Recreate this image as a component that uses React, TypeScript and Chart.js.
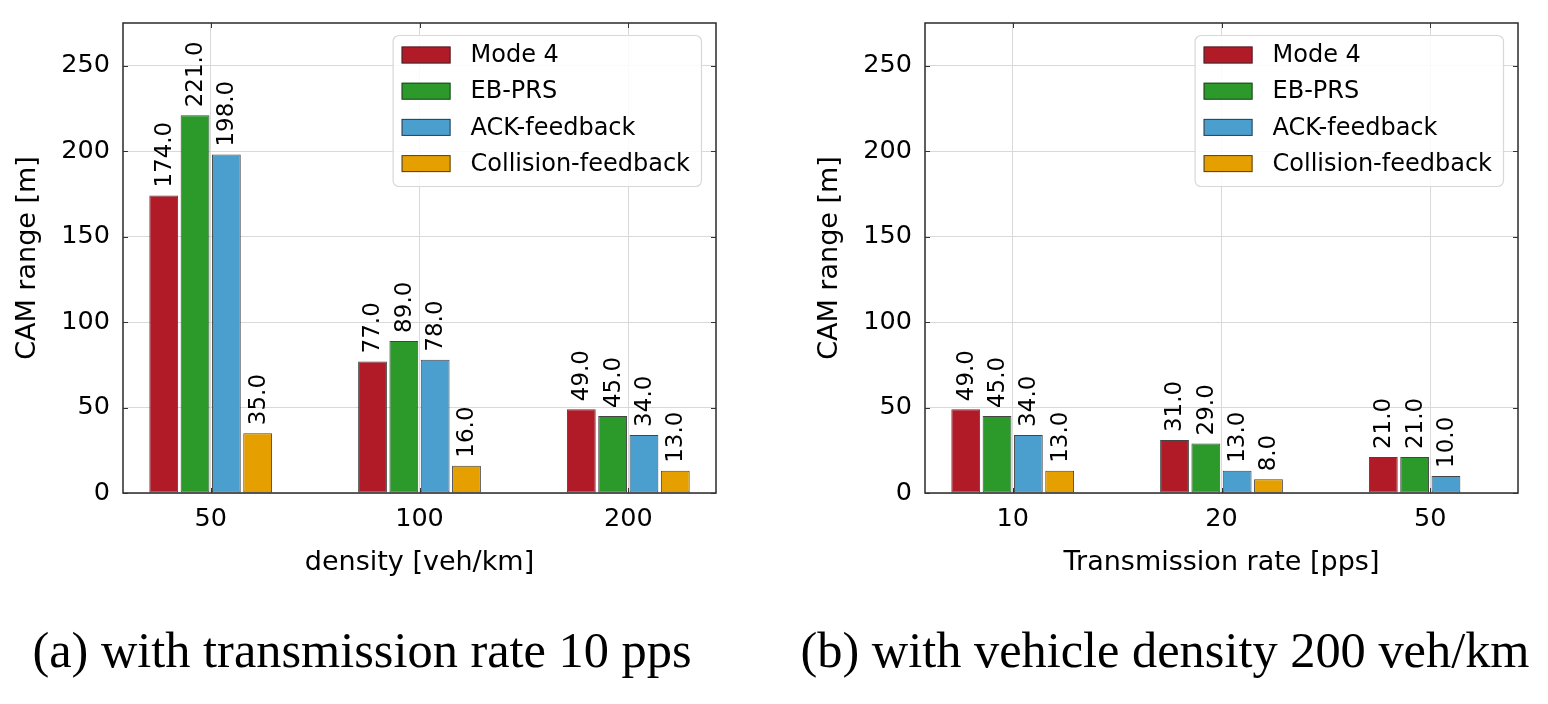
import React, { useEffect, useRef } from 'react';
import { Chart, registerables } from 'chart.js';

Chart.register(...registerables);

const SERIES_NAMES = ['Mode 4', 'EB-PRS', 'ACK-feedback', 'Collision-feedback'];
const SERIES_COLORS = ['#b11b28', '#2b9a2b', '#4b9fcf', '#e5a000'];

const densityCategories = ['50', '100', '200'];
const densityMode4 = [174, 77, 49];
const densityEbPrs = [221, 89, 45];
const densityAck = [198, 78, 34];
const densityCollision = [35, 16, 13];

const rateCategories = ['10', '20', '50'];
const rateMode4 = [49, 31, 21];
const rateEbPrs = [45, 29, 21];
const rateAck = [34, 13, 10];
const rateCollision: (number | null)[] = [13, 8, null];

const yTickValues = [0, 50, 100, 150, 200, 250];
const Y_MAX = 275;

const FONT = '"DejaVu Sans", sans-serif';
const GRID = '#d9d9d9';

const decorPlugin = {
  id: 'decor',
  afterDatasetsDraw(chart: any) {
    const { ctx, chartArea: a, scales } = chart;
    ctx.save();
    // frame
    ctx.strokeStyle = '#2a2a2a';
    ctx.lineWidth = 1.5;
    ctx.strokeRect(a.left, a.top, a.right - a.left, a.bottom - a.top);
    // inward ticks
    ctx.lineWidth = 1;
    ctx.strokeStyle = '#333';
    ctx.beginPath();
    scales.y.ticks.forEach((t: any) => {
      const py = Math.round(scales.y.getPixelForValue(t.value)) + 0.5;
      ctx.moveTo(a.left, py); ctx.lineTo(a.left + 5, py);
      ctx.moveTo(a.right, py); ctx.lineTo(a.right - 5, py);
    });
    scales.x.ticks.forEach((t: any) => {
      const px = Math.round(scales.x.getPixelForValue(t.value)) + 0.5;
      ctx.moveTo(px, a.bottom); ctx.lineTo(px, a.bottom - 5);
      ctx.moveTo(px, a.top); ctx.lineTo(px, a.top + 5);
    });
    ctx.stroke();

    // value labels
    ctx.fillStyle = '#000';
    ctx.font = `23px ${FONT}`;
    ctx.textAlign = 'left';
    ctx.textBaseline = 'middle';
    chart.data.datasets.forEach((ds: any, di: number) => {
      const meta = chart.getDatasetMeta(di);
      meta.data.forEach((el: any, i: number) => {
        const v = ds.data[i].y;
        if (v == null) return;
        ctx.save();
        ctx.translate(el.x + 1, el.y - 8);
        ctx.rotate(-Math.PI / 2);
        ctx.fillText(v.toFixed(1), 0, 0);
        ctx.restore();
      });
    });

    // legend
    ctx.font = `24px ${FONT}`;
    const names = chart.data.datasets.map((d: any) => d.label);
    const textW = Math.max(...names.map((n: string) => ctx.measureText(n).width));
    const boxW = 9 + 49 + 20 + textW + 11;
    const boxH = 151;
    const bx = a.right - 15 - boxW;
    const by = a.top + 12;
    ctx.beginPath();
    ctx.roundRect(bx + 0.5, by + 0.5, boxW, boxH, 6);
    ctx.fillStyle = 'rgba(255,255,255,0.85)';
    ctx.fill();
    ctx.strokeStyle = '#d8d8d8';
    ctx.lineWidth = 1.2;
    ctx.stroke();
    chart.data.datasets.forEach((ds: any, di: number) => {
      const cy = by + 20 + di * 36.2;
      ctx.fillStyle = ds.backgroundColor;
      ctx.fillRect(bx + 9, cy - 8.5, 49, 17);
      ctx.strokeStyle = 'rgba(40,40,40,0.8)';
      ctx.lineWidth = 1;
      ctx.strokeRect(bx + 9.5, cy - 8, 48, 16);
      ctx.fillStyle = '#000';
      ctx.textAlign = 'left';
      ctx.textBaseline = 'middle';
      ctx.fillText(ds.label, bx + 78, cy + 1);
    });
    ctx.restore();
  },
};

function Panel({ categories, series, xTitle, left }: any) {
  const ref = useRef<HTMLCanvasElement>(null);
  useEffect(() => {
    const canvas = ref.current!;
    const chart = new Chart(canvas, {
      type: 'bar',
      data: {
        datasets: series.map((s: (number | null)[], k: number) => ({
          label: SERIES_NAMES[k],
          data: categories
            .map((_: string, i: number) => ({ x: i, y: s[i] }))
            .filter((p: any) => p.y != null),
          backgroundColor: SERIES_COLORS[k],
          borderColor: 'rgba(35,35,35,0.85)',
          borderWidth: 1,
          borderSkipped: false,
          categoryPercentage: 0.6,
          barPercentage: 0.92,
        })),
      },
      options: {
        responsive: false,
        animation: false,
        devicePixelRatio: 1,
        layout: { padding: { top: 23, right: 30, left: 0, bottom: 0 } },
        plugins: { legend: { display: false }, tooltip: { enabled: false } },
        scales: {
          x: {
            type: 'linear',
            min: -0.42,
            max: 2.42,
            offset: false,
            grid: { offset: false, color: GRID, drawTicks: false, lineWidth: 1 },
            border: { display: false },
            afterBuildTicks: (s: any) => {
              s.ticks = categories.map((_: string, i: number) => ({ value: i }));
            },
            afterFit: (s: any) => {
              s.height = 107;
              s.paddingLeft = 0;
              s.paddingRight = 0;
            },
            ticks: {
              callback: (v: any) => categories[v] ?? '',
              font: { family: FONT, size: 25.5 },
              color: '#000',
              padding: 11,
              maxRotation: 0,
              autoSkip: false,
            },
            title: {
              display: true,
              text: xTitle,
              font: { family: FONT, size: 27 },
              color: '#000',
              padding: { top: 0, bottom: 21 },
            },
          },
          y: {
            type: 'linear',
            min: 0,
            max: Y_MAX,
            grid: { color: GRID, drawTicks: false, lineWidth: 1 },
            border: { display: false },
            afterBuildTicks: (s: any) => {
              s.ticks = yTickValues.map((v) => ({ value: v }));
            },
            afterFit: (s: any) => {
              s.width = 123;
              s.paddingTop = 0;
              s.paddingBottom = 0;
            },
            ticks: {
              font: { family: FONT, size: 25.5 },
              color: '#000',
              padding: 13,
            },
            title: {
              display: true,
              text: 'CAM range [m]',
              font: { family: FONT, size: 27 },
              color: '#000',
              padding: { top: 12, bottom: 0 },
            },
          },
        },
      },
      plugins: [decorPlugin],
    } as any);
    return () => chart.destroy();
  }, []);
  return (
    <canvas
      ref={ref}
      width={746}
      height={600}
      style={{ position: 'absolute', left, top: 0, width: 746, height: 600 }}
    />
  );
}

const captionStyle = (center: number): React.CSSProperties => ({
  position: 'absolute',
  left: center - 400,
  top: 625,
  width: 800,
  textAlign: 'center',
  fontFamily: '"Liberation Serif", "Times New Roman", serif',
  fontSize: 50.4,
  lineHeight: '50px',
  whiteSpace: 'nowrap',
  color: '#000',
});

export default function App() {
  return (
    <div
      style={{
        position: 'absolute',
        left: 0,
        top: 0,
        width: 1548,
        height: 704,
        overflow: 'hidden',
        background: '#fff',
      }}
    >
      <Panel
        left={0}
        categories={densityCategories}
        series={[densityMode4, densityEbPrs, densityAck, densityCollision]}
        xTitle="density [veh/km]"
      />
      <Panel
        left={802}
        categories={rateCategories}
        series={[rateMode4, rateEbPrs, rateAck, rateCollision]}
        xTitle="Transmission rate [pps]"
      />
      <div style={captionStyle(362)}>(a) with transmission rate 10 pps</div>
      <div style={captionStyle(1165)}>(b) with vehicle density 200 veh/km</div>
    </div>
  );
}
